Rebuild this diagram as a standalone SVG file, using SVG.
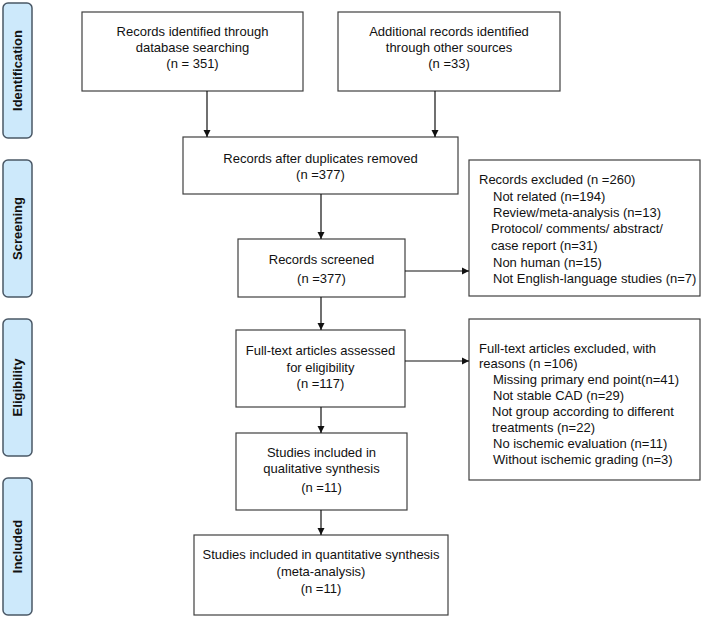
<svg xmlns="http://www.w3.org/2000/svg" width="704" height="618" viewBox="0 0 704 618">
<style>
.box{fill:#fff;stroke:#404040;stroke-width:1.2}
.side{fill:#cde9fb;stroke:#4a5866;stroke-width:1.5}
.t{font-family:"Liberation Sans",Arial,sans-serif;font-size:13px;fill:#111}
.c{text-anchor:middle}
.s{font-family:"Liberation Sans",Arial,sans-serif;font-size:13px;font-weight:bold;fill:#111;text-anchor:middle}
.ln{stroke:#111;stroke-width:1.2;fill:none;marker-end:url(#ah)}
</style>
<defs>
<marker id="ah" markerWidth="8" markerHeight="8" refX="7" refY="4" orient="auto" markerUnits="userSpaceOnUse">
<path d="M0,0.5 L7,4 L0,7.5 Z" fill="#111"/>
</marker>
</defs>
<g id="side-identification"><rect class="side" x="3" y="3" width="29" height="135" rx="5"/><text class="s" transform="translate(22,70.5) rotate(-90)">Identification</text></g>
<g id="side-screening"><rect class="side" x="3" y="160" width="29" height="137" rx="5"/><text class="s" transform="translate(22,228.5) rotate(-90)">Screening</text></g>
<g id="side-eligibility"><rect class="side" x="3" y="319" width="29" height="137" rx="5"/><text class="s" transform="translate(22,387.5) rotate(-90)">Eligibility</text></g>
<g id="side-included"><rect class="side" x="3" y="478" width="29" height="137" rx="5"/><text class="s" transform="translate(22,546.5) rotate(-90)">Included</text></g>

<g id="n-db"><rect class="box" x="82" y="12" width="221" height="79"/>
<text class="t c" x="192.5" y="36">Records identified through</text>
<text class="t c" x="192.5" y="52">database searching</text>
<text class="t c" x="192.5" y="68">(n = 351)</text></g>
<g id="n-other"><rect class="box" x="338" y="12" width="222" height="79"/>
<text class="t c" x="449" y="36">Additional records identified</text>
<text class="t c" x="449" y="52">through other sources</text>
<text class="t c" x="449" y="68">(n =33)</text></g>
<g id="n-dup"><rect class="box" x="183" y="137" width="275" height="57"/>
<text class="t c" x="320.5" y="163">Records after duplicates removed</text>
<text class="t c" x="320.5" y="179">(n =377)</text></g>
<g id="n-screened"><rect class="box" x="238" y="239" width="167" height="58"/>
<text class="t c" x="321.5" y="264">Records screened</text>
<text class="t c" x="321.5" y="283">(n =377)</text></g>
<g id="n-excluded"><rect class="box" x="469" y="160" width="231" height="136"/>
<text class="t" x="479" y="184">Records excluded (n =260)</text>
<text class="t" x="493" y="201">Not related (n=194)</text>
<text class="t" x="493" y="217">Review/meta-analysis (n=13)</text>
<text class="t" x="491" y="233">Protocol/ comments/ abstract/</text>
<text class="t" x="491" y="250">case report (n=31)</text>
<text class="t" x="493" y="267">Non human (n=15)</text>
<text class="t" x="493" y="283">Not English-language studies (n=7)</text></g>
<g id="n-fulltext"><rect class="box" x="236" y="330" width="169" height="77"/>
<text class="t c" x="320.5" y="355">Full-text articles assessed</text>
<text class="t c" x="320.5" y="372">for eligibility</text>
<text class="t c" x="320.5" y="388">(n =117)</text></g>
<g id="n-ftexcluded"><rect class="box" x="469" y="319" width="231" height="161"/>
<text class="t" x="479" y="353">Full-text articles excluded, with</text>
<text class="t" x="479" y="368">reasons (n =106)</text>
<text class="t" x="493" y="384">Missing primary end point(n=41)</text>
<text class="t" x="493" y="400">Not stable CAD (n=29)</text>
<text class="t" x="492" y="416">Not group according to different</text>
<text class="t" x="492" y="432">treatments (n=22)</text>
<text class="t" x="493" y="448">No ischemic evaluation (n=11)</text>
<text class="t" x="493" y="464">Without ischemic grading (n=3)</text></g>
<g id="n-qual"><rect class="box" x="236" y="433" width="171" height="77"/>
<text class="t c" x="321.5" y="457">Studies included in</text>
<text class="t c" x="321.5" y="473">qualitative synthesis</text>
<text class="t c" x="321.5" y="492">(n =11)</text></g>
<g id="n-quant"><rect class="box" x="194" y="535" width="254" height="80"/>
<text class="t c" x="321" y="559">Studies included in quantitative synthesis</text>
<text class="t c" x="321" y="576">(meta-analysis)</text>
<text class="t c" x="321" y="593">(n =11)</text></g>

<g id="connectors">
<line class="ln" x1="207" y1="91" x2="207" y2="137"/>
<line class="ln" x1="435" y1="91" x2="435" y2="137"/>
<line class="ln" x1="321" y1="194" x2="321" y2="239"/>
<line class="ln" x1="405" y1="271" x2="469" y2="271"/>
<line class="ln" x1="321" y1="297" x2="321" y2="330"/>
<line class="ln" x1="405" y1="361" x2="469" y2="361"/>
<line class="ln" x1="321" y1="407" x2="321" y2="433"/>
<line class="ln" x1="321" y1="510" x2="321" y2="535"/>
</g>
</svg>
